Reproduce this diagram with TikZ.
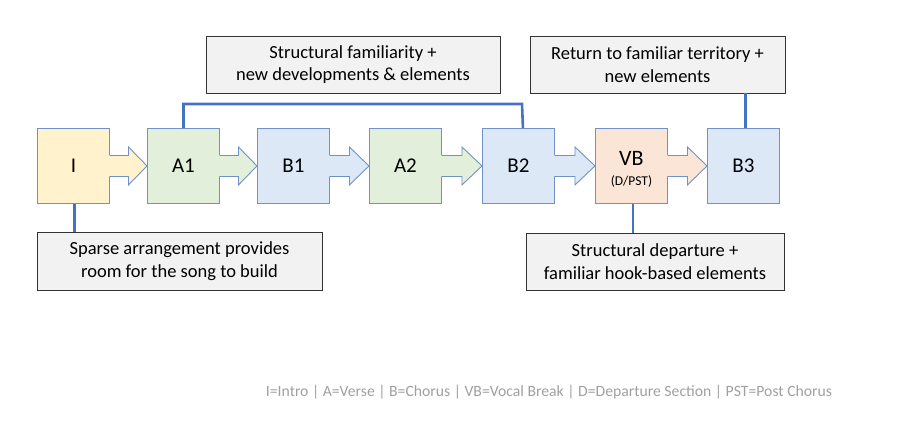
\documentclass[tikz,border=0pt]{standalone}
\usepackage{fontspec}
\setmainfont{Carlito}
\usetikzlibrary{calc}
\definecolor{cyel}{HTML}{FFF2CC}
\definecolor{cgrn}{HTML}{E2EFDA}
\definecolor{cblu}{HTML}{DCE8F6}
\definecolor{cpch}{HTML}{FBE5D6}
\definecolor{cbord}{HTML}{7092C8}
\definecolor{cline}{HTML}{4472C4}
\definecolor{ccall}{HTML}{F2F2F2}
\definecolor{cleg}{HTML}{A0A0A0}
\begin{document}
\begin{tikzpicture}[x=1pt,y=-1pt,
  secbox/.style={draw=cbord,line width=0.9pt,minimum width=72pt,minimum height=75pt,inner sep=0pt,font=\fontsize{21}{24}\selectfont,anchor=north west},
  callout/.style={draw=black!80,fill=ccall,line width=0.8pt,inner sep=0pt,align=center,font=\fontsize{18.5}{22.5}\selectfont},
  conn/.style={draw=cline,line width=2.6pt}]
\useasboundingbox (0,0) rectangle (899,439);
% section boxes
\node[secbox,fill=cyel] (I)  at (37,128)  {I};
\node[secbox,fill=cgrn] (A1) at (147,128) {A1};
\node[secbox,fill=cblu] (B1) at (257,128) {B1};
\node[secbox,fill=cgrn] (A2) at (369,128) {A2};
\node[secbox,fill=cblu] (B2) at (482,128) {B2};
\node[secbox,fill=cpch] (VB) at (595,128) {};
\node[secbox,fill=cblu] (B3) at (707,128) {B3};
\node[font=\fontsize{22}{24}\selectfont,inner sep=0pt] (vbt) at ([yshift=8pt]VB.center) {VB};
\node[font=\fontsize{13.5}{15}\selectfont,inner sep=0pt] (vbs) at ([yshift=-16pt]VB.center) {(D/PST)};
% block arrows
\foreach \s/\t/\c in {I/A1/cyel,A1/B1/cgrn,B1/A2/cblu,A2/B2/cgrn,B2/VB/cblu,VB/B3/cpch}{
  \path let \p1=(\s.east), \p2=(\t.west), \n1={(\x2-\x1)/2} in
    [fill=\c] (\x1-0.8pt,\y1-10.5pt) -- (\x1+\n1,\y1-10.5pt) -- (\x1+\n1,\y1-19pt) -- (\x2,\y1)
      -- (\x1+\n1,\y1+19pt) -- (\x1+\n1,\y1+10.5pt) -- (\x1-0.8pt,\y1+10.5pt) -- cycle;
  \draw[cbord,line width=0.9pt] let \p1=(\s.east), \p2=(\t.west), \n1={(\x2-\x1)/2} in
    (\x1,\y1-10.5pt) -- (\x1+\n1,\y1-10.5pt) -- (\x1+\n1,\y1-19pt) -- (\x2,\y1)
      -- (\x1+\n1,\y1+19pt) -- (\x1+\n1,\y1+10.5pt) -- (\x1,\y1+10.5pt);
}
% callouts
\node[callout,minimum width=294pt,minimum height=57pt] (fam) at (353,64.5) {Structural familiarity +\\new developments \& elements};
\node[callout,minimum width=255pt,minimum height=57pt] (ret) at (657.5,64.5) {Return to familiar territory +\\new elements};
\node[callout,minimum width=285pt,minimum height=58pt] (spa) at (179.5,261) {Sparse arrangement provides\\room for the song to build};
\node[callout,minimum width=258pt,minimum height=57pt] (dep) at (655,261.5) {Structural departure +\\familiar hook-based elements};
% connectors
\coordinate (bend) at (522,104);
\draw[conn] (A1.north) |- (bend) -- ([xshift=4.5pt]B2.north);
\draw[conn] ([xshift=2pt]B3.north) -- ([xshift=2pt]B3.north |- ret.south);
\draw[conn] ([xshift=1pt]I.south) -- ([xshift=1pt]I.south |- spa.north);
\draw[conn] ([xshift=1.5pt]VB.south) -- ([xshift=1.5pt]VB.south |- dep.north);
% legend
\node[text=cleg,font=\fontsize{15.7}{18}\selectfont,inner sep=0pt] (leg) at (549,392) {I=Intro | A=Verse | B=Chorus | VB=Vocal Break | D=Departure Section | PST=Post Chorus};
\end{tikzpicture}
\end{document}
